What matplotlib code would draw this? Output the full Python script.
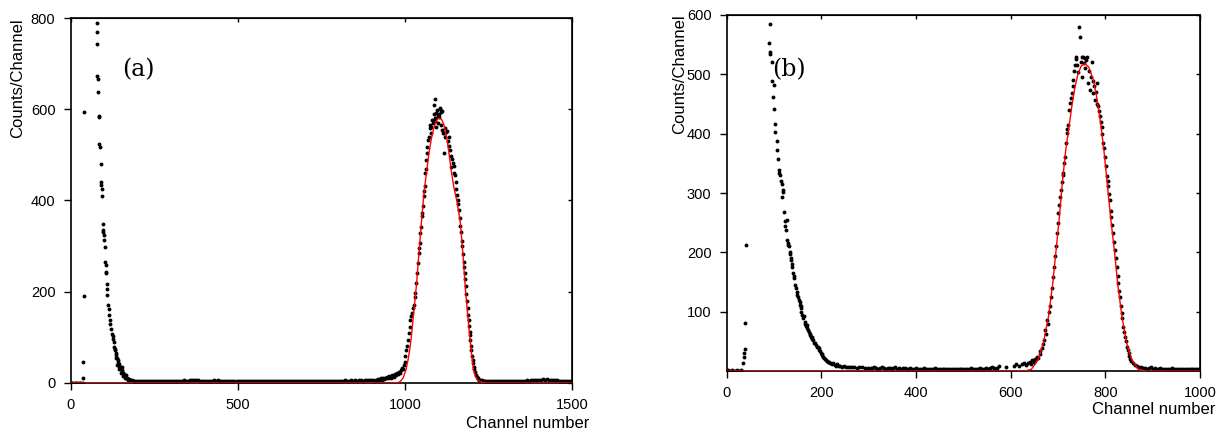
import numpy as np
import matplotlib
matplotlib.use("Agg")
import matplotlib.pyplot as plt

plt.rcParams['font.family'] = ['Liberation Sans', 'DejaVu Sans']

# ---------------- panel (a) ----------------
# evenly spaced channel runs: (start, step, counts)
zero_a = (0, 4, [0, 1, 1, 0, 1, 0, 1, 0, 1, 1])
base_a_mid = (190, 6, [5, 4, 5, 4, 4, 5, 4, 4, 5, 4,
                       4, 5, 4, 4, 4, 5, 4, 4, 5, 4,
                       4, 5, 5, 4, 5, 6, 5, 5, 6, 7,
                       6, 7, 6, 5, 5, 4, 5, 4, 5, 5,
                       6, 5, 6, 5, 4, 4, 5, 4, 4, 4,
                       4, 4, 5, 4, 4, 4, 4, 4, 4, 4,
                       4, 4, 4, 4, 4, 4, 4, 4, 4, 4,
                       4, 4, 4, 4, 4, 4, 4, 4, 4, 4,
                       4, 4, 4, 4, 4, 5, 4, 4, 4, 4,
                       4, 5, 4, 4, 5, 4, 5, 4, 5, 5,
                       4, 5, 5, 4, 5, 6, 5, 5, 6, 5,
                       6, 5, 6, 6, 5, 7, 6, 6, 7, 6])
base_a_post = (1240, 6, [5, 4, 5, 4, 4, 5, 4, 4, 5, 4,
                         4, 5, 4, 4, 5, 4, 5, 4, 5, 5,
                         5, 6, 5, 6, 6, 7, 6, 7, 7, 8,
                         7, 8, 7, 7, 6, 7, 6, 5, 5, 4,
                         5, 4, 4, 5])

spike_a = [(38, 10), (38, 46), (39, 190), (41, 594)]

decay_a = [(78, 788), (78, 770), (78, 742), (80, 673), (81, 666), (82, 638),
           (84, 586), (85, 584), (86, 523), (87, 517), (90, 479), (91, 441),
           (92, 433), (93, 426), (94, 409), (96, 349), (97, 335), (98, 331),
           (100, 324), (101, 313), (102, 298), (104, 265), (105, 258),
           (106, 243), (107, 240), (108, 218), (109, 207), (110, 192),
           (113, 170), (114, 163), (116, 148), (117, 137), (119, 129),
           (121, 119), (123, 108), (125, 102), (126, 97), (128, 90),
           (130, 79), (131, 75), (132, 72), (134, 66), (135, 55), (136, 61),
           (138, 55), (139, 40), (140, 50), (142, 45), (143, 41), (144, 30),
           (145, 38), (146, 35), (148, 33), (149, 22), (150, 31), (152, 28),
           (153, 35), (154, 26), (156, 22), (157, 15), (158, 20), (160, 17),
           (162, 10), (163, 15), (165, 12), (166, 18), (168, 11), (170, 9),
           (172, 6), (174, 8), (178, 7), (183, 6), (188, 5)]

peak_a = [(908, 5), (912, 7), (915, 6), (918, 9), (921, 6), (924, 8),
          (927, 10), (930, 7), (933, 11), (936, 9), (939, 12), (942, 10),
          (945, 14), (948, 11), (951, 16), (954, 13), (957, 12), (960, 18),
          (963, 15), (966, 14), (969, 20), (972, 17), (975, 22), (978, 19),
          (981, 24), (984, 21), (987, 28), (990, 33), (993, 30), (996, 40),
          (999, 45), (1001, 60), (1004, 72), (1006, 80), (1009, 95),
          (1011, 109), (1014, 122), (1016, 138), (1019, 146), (1021, 153),
          (1024, 165), (1026, 171), (1029, 188), (1031, 197), (1033, 219),
          (1036, 240), (1038, 262), (1041, 284), (1042, 296), (1044, 306),
          (1046, 328), (1049, 343), (1051, 365), (1052, 372), (1054, 387),
          (1056, 409), (1057, 420), (1059, 431), (1061, 460), (1062, 470),
          (1064, 489), (1066, 518), (1067, 505), (1069, 533), (1072, 540),
          (1074, 558), (1076, 566), (1078, 548), (1079, 560), (1081, 577),
          (1083, 570), (1086, 610), (1087, 589), (1089, 622), (1090, 580),
          (1091, 575), (1093, 592), (1094, 560), (1096, 599), (1098, 585),
          (1099, 570), (1101, 589), (1103, 583), (1104, 600), (1106, 602),
          (1107, 594), (1109, 565), (1111, 596), (1112, 555), (1114, 547),
          (1116, 547), (1118, 504), (1119, 540), (1121, 559), (1123, 550),
          (1126, 552), (1128, 530), (1131, 540), (1133, 520), (1136, 511),
          (1138, 474), (1139, 498), (1141, 490), (1143, 482), (1146, 476),
          (1148, 460), (1151, 455), (1152, 440), (1154, 425), (1156, 412),
          (1158, 400), (1159, 392), (1161, 380), (1164, 362), (1166, 345),
          (1168, 330), (1171, 312), (1172, 300), (1174, 282), (1176, 265),
          (1177, 255), (1179, 240), (1180, 228), (1182, 212), (1184, 195),
          (1186, 180), (1188, 165), (1189, 150), (1191, 138), (1192, 125),
          (1194, 112), (1195, 105), (1196, 95), (1198, 82), (1199, 72),
          (1201, 60), (1203, 50), (1204, 44), (1206, 36), (1208, 30),
          (1210, 24), (1212, 18), (1215, 14), (1218, 10), (1220, 8),
          (1223, 7), (1226, 6), (1230, 6), (1235, 5)]

fit_a = [(0, 0), (975, 0), (986, 3), (995, 12), (1003, 29), (1009, 50),
         (1014, 72), (1019, 100), (1023, 131), (1029, 175), (1035, 219),
         (1041, 277), (1049, 350), (1057, 418), (1066, 470), (1072, 505),
         (1079, 535), (1086, 558), (1092, 572), (1098, 579), (1104, 580),
         (1110, 577), (1116, 567), (1121, 552), (1126, 533), (1132, 502),
         (1138, 468), (1146, 430), (1155, 400), (1160, 378), (1166, 350),
         (1174, 277), (1181, 204), (1190, 131), (1198, 72), (1205, 29),
         (1211, 14), (1217, 7), (1225, 3), (1235, 1), (1245, 0), (1500, 0)]

# ---------------- panel (b) ----------------
zero_b = (0, 3, [0, 1, 0, 0, 1, 0, 0, 1, 0, 0, 1, 0])
base_b_mid = (308, 4, [5, 6, 5, 4, 5, 6, 5, 4, 5, 5,
                       4, 5, 6, 4, 5, 4, 5, 5, 4, 4,
                       5, 4, 4, 5, 4, 4, 4, 5, 4, 4,
                       4, 4, 4, 5, 4, 4, 4, 4, 4, 4,
                       4, 4, 4, 4, 4, 4, 4, 4, 4, 4,
                       4, 4, 5, 4, 4, 4, 4, 5, 4, 4,
                       5, 4, 5, 6, 5, 4, 5])
base_b_post = (884, 4, [5, 4, 5, 6, 4, 5, 4, 4, 5, 4,
                        4, 4, 4, 4, 5, 4, 4, 4, 4, 4,
                        4, 4, 4, 4, 4, 4, 4, 4, 4, 4])

spike_b = [(35, 13), (37, 24), (37, 30), (38, 37), (39, 81), (41, 213)]

decay_b = [(89, 552), (91, 585), (91, 538), (92, 534), (95, 521), (96, 488),
           (97, 462), (99, 482), (100, 441), (102, 417), (103, 403),
           (106, 387), (107, 372), (108, 358), (110, 333), (111, 338),
           (113, 330), (114, 320), (116, 316), (117, 294), (118, 305),
           (120, 302), (121, 268), (123, 252), (124, 245), (125, 238),
           (127, 254), (128, 220), (129, 215), (130, 212), (131, 210),
           (133, 200), (134, 198), (135, 190), (136, 187), (138, 181),
           (139, 175), (141, 165), (142, 156), (143, 160), (145, 145),
           (146, 140), (148, 134), (149, 128), (150, 125), (152, 120),
           (154, 117), (155, 112), (156, 106), (157, 110), (158, 100),
           (160, 95), (162, 89), (163, 92), (165, 82), (166, 80), (168, 76),
           (169, 78), (170, 72), (172, 69), (173, 66), (175, 63), (176, 60),
           (178, 57), (180, 58), (181, 54), (183, 52), (185, 48), (187, 47),
           (188, 44), (190, 41), (192, 40), (194, 38), (195, 35), (197, 33),
           (199, 30), (201, 27), (202, 29), (204, 24), (206, 22), (208, 21),
           (210, 19), (212, 17), (214, 15), (217, 16), (219, 13), (222, 12),
           (225, 13), (228, 10), (231, 9), (234, 11), (237, 8), (240, 8),
           (244, 7), (248, 9), (252, 6), (256, 7), (260, 6), (265, 6),
           (270, 6), (275, 5), (280, 6), (286, 6), (292, 5), (298, 5),
           (304, 5)]

peak_b = [(576, 8), (590, 6), (606, 9), (612, 12), (618, 8), (624, 11),
          (628, 14), (632, 10), (636, 13), (640, 16), (643, 12), (646, 18),
          (649, 15), (652, 20), (655, 24), (658, 22), (661, 28), (663, 33),
          (666, 38), (668, 45), (670, 52), (673, 69), (674, 62), (676, 86),
          (678, 80), (680, 100), (683, 110), (685, 125), (687, 140),
          (690, 159), (692, 175), (694, 193), (696, 210), (697, 232),
          (699, 250), (701, 266), (702, 280), (704, 294), (706, 305),
          (708, 319), (710, 330), (711, 333), (713, 350), (715, 361),
          (717, 385), (718, 401), (720, 408), (722, 415), (724, 440),
          (725, 451), (727, 460), (729, 468), (731, 480), (732, 490),
          (734, 505), (736, 516), (738, 525), (739, 530), (741, 515),
          (743, 504), (745, 580), (746, 563), (748, 520), (750, 496),
          (751, 530), (753, 530), (755, 519), (756, 528), (758, 510),
          (760, 524), (762, 530), (764, 485), (766, 505), (768, 474),
          (769, 495), (771, 521), (773, 488), (775, 468), (776, 480),
          (778, 457), (780, 470), (782, 485), (783, 450), (785, 446),
          (787, 438), (789, 429), (790, 420), (792, 412), (794, 400),
          (796, 384), (797, 375), (799, 361), (801, 345), (803, 328),
          (805, 320), (806, 311), (808, 298), (810, 288), (812, 270),
          (813, 260), (815, 246), (817, 232), (819, 218), (820, 204),
          (822, 190), (824, 176), (826, 160), (827, 148), (829, 135),
          (831, 125), (833, 110), (835, 97), (836, 90), (838, 75), (840, 66),
          (842, 58), (843, 50), (845, 41), (847, 35), (849, 30), (850, 25),
          (852, 21), (855, 17), (859, 13), (862, 10), (866, 8), (870, 7),
          (875, 6), (880, 5)]

fit_b = [(0, 0), (630, 0), (644, 3), (658, 19), (669, 47), (680, 92),
         (689, 148), (696, 204), (703, 260), (709, 316), (716, 370),
         (723, 410), (729, 445), (735, 475), (742, 500), (749, 514),
         (757, 518), (765, 512), (775, 490), (781, 465), (787, 435),
         (792, 405), (797, 372), (804, 316), (811, 260), (819, 204),
         (826, 148), (835, 92), (845, 47), (856, 19), (870, 3), (885, 0),
         (1000, 0)]


def run_points(run):
    start, step, vals = run
    ch = start + step * np.arange(len(vals))
    return ch, np.array(vals)


def pairs(lst):
    arr = np.array(lst, dtype=float)
    return arr[:, 0], arr[:, 1]


def draw_panel(ax, runs, point_sets, fit, xlim, ylim, xticks, yticks, tag, tag_pos):
    for r in runs:
        cx, cy = run_points(r)
        ax.plot(cx, cy, 'o', color='black', ms=2.8, mew=0, zorder=3)
    for p in point_sets:
        cx, cy = pairs(p)
        ax.plot(cx, cy, 'o', color='black', ms=2.8, mew=0, zorder=3)
    fx, fy = pairs(fit)
    ax.plot(fx, fy, '-', color='red', lw=1.0, zorder=4)

    ax.set_xlim(*xlim)
    ax.set_ylim(*ylim)
    ax.set_xticks(xticks)
    ax.set_yticks(yticks)
    ax.tick_params(direction='out', length=5, width=1, labelsize=10.5, pad=6)
    for s in ax.spines.values():
        s.set_linewidth(1.2)

    # inward ticks on top / right frame
    top = ax.secondary_xaxis('top')
    top.set_xticks(xticks)
    top.set_xticklabels([])
    top.tick_params(direction='in', length=3, width=1)
    right = ax.secondary_yaxis('right')
    right.set_yticks(yticks)
    right.set_yticklabels([])
    right.tick_params(direction='in', length=3, width=1)

    ax.text(tag_pos[0], tag_pos[1], tag, transform=ax.transAxes,
            family='DejaVu Serif', fontsize=17, va='center', ha='left')


fig = plt.figure(figsize=(12.3, 4.37), dpi=100)

ax_a = fig.add_axes([0.0575, 0.1236, 0.4076, 0.8352])
draw_panel(ax_a, [zero_a, base_a_mid, base_a_post],
           [spike_a, decay_a, peak_a], fit_a,
           (0, 1500), (0, 800), [0, 500, 1000, 1500],
           [0, 200, 400, 600, 800], '(a)', (0.102, 0.857))
ax_a.set_xlabel('Channel number', fontsize=12, ha='right')
ax_a.xaxis.set_label_coords(1.035, -0.09)
ax_a.set_ylabel('Counts/Channel', fontsize=12)
ax_a.yaxis.set_label_coords(-0.091, 0.836)

ax_b = fig.add_axes([0.5908, 0.151, 0.3848, 0.8147])
draw_panel(ax_b, [zero_b, base_b_mid, base_b_post],
           [spike_b, decay_b, peak_b], fit_b,
           (0, 1000), (0, 600), [0, 200, 400, 600, 800, 1000],
           [100, 200, 300, 400, 500, 600], '(b)', (0.095, 0.846))
ax_b.set_xlabel('Channel number', fontsize=12, ha='right')
ax_b.xaxis.set_label_coords(1.032, -0.087)
ax_b.set_ylabel('Counts/Channel', fontsize=12)
ax_b.yaxis.set_label_coords(-0.0845, 0.834)

fig.savefig('out.png', dpi=100)
